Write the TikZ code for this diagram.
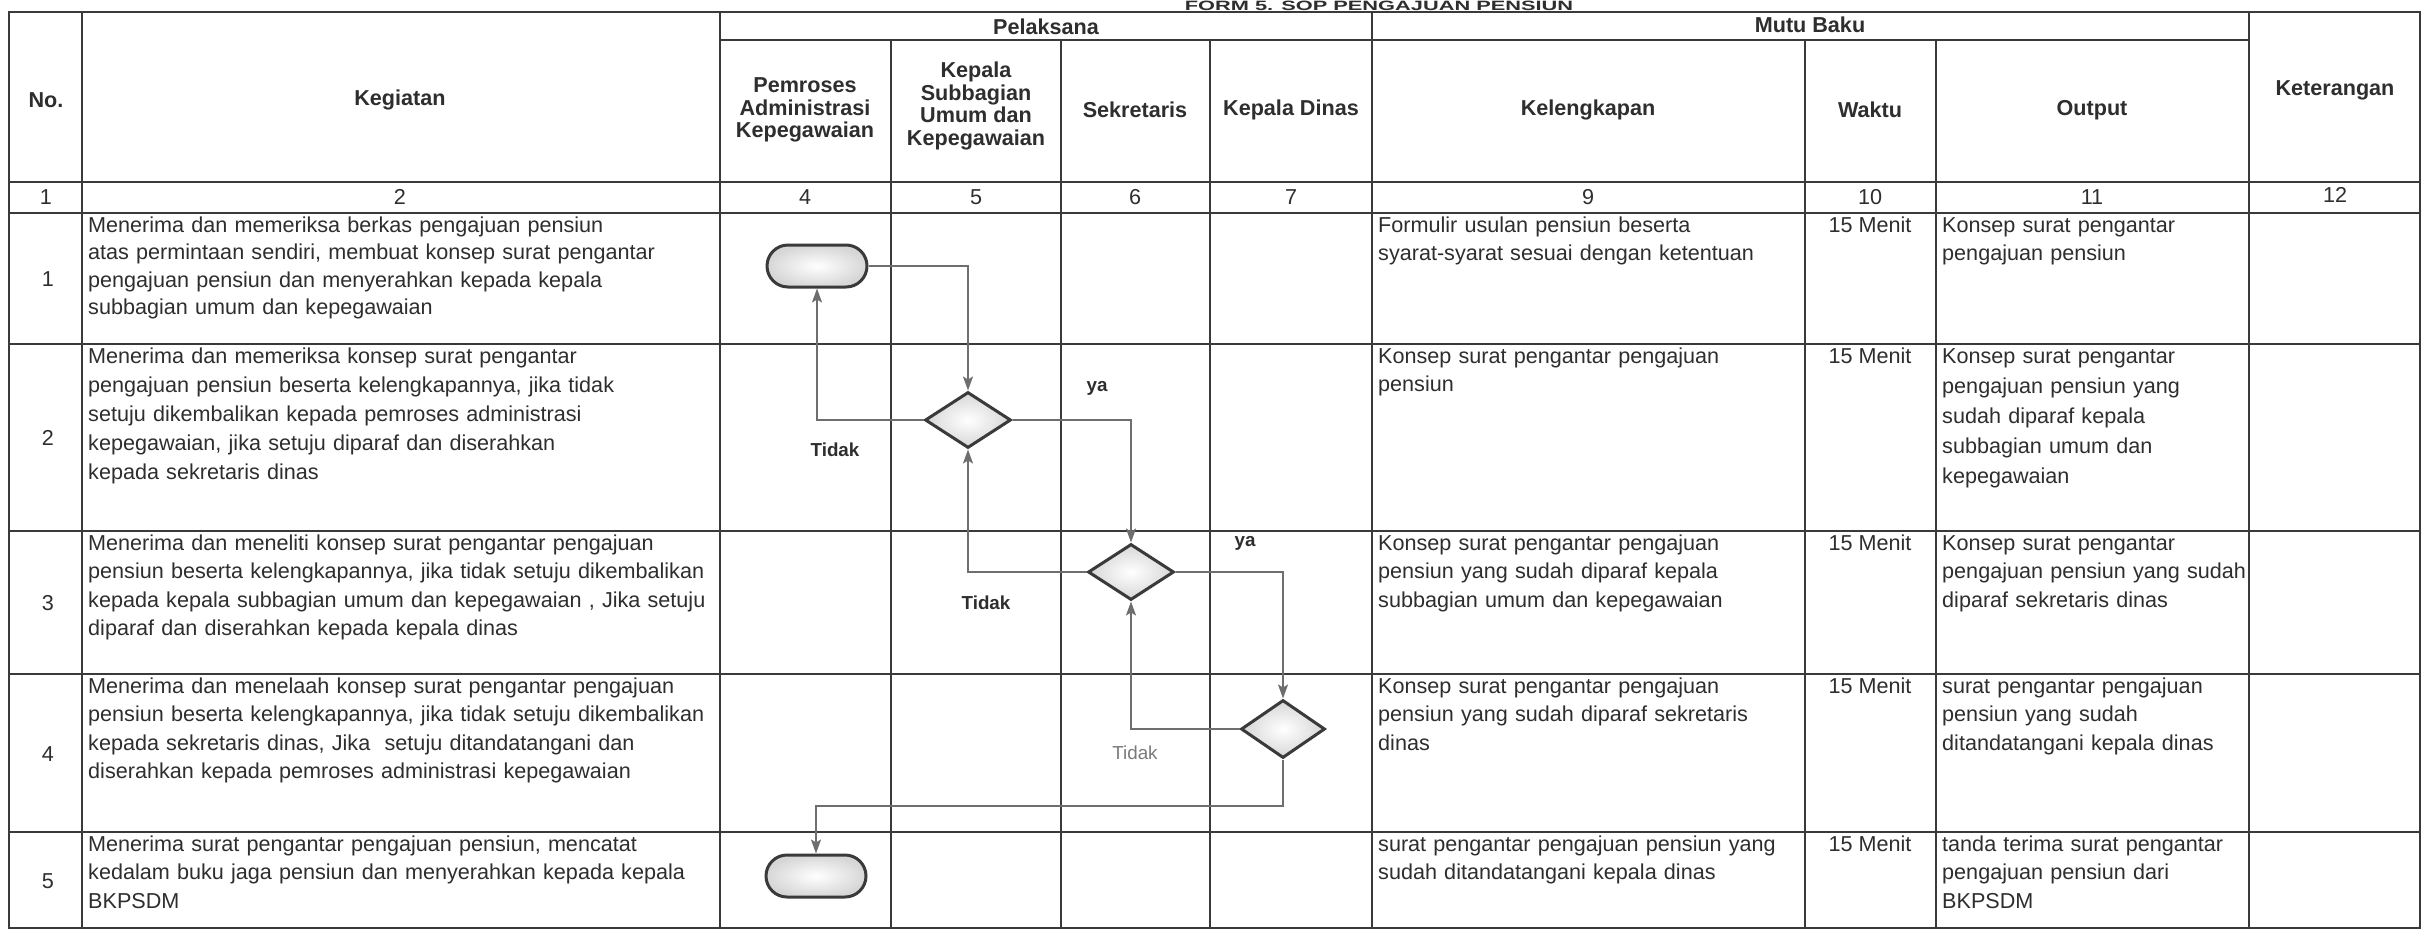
\documentclass[tikz,border=0pt]{standalone}
\usepackage{fontspec}
\setmainfont{Liberation Sans}
\usetikzlibrary{shapes.geometric,shapes.misc,arrows.meta}
\definecolor{ink}{HTML}{2E2E2E}
\definecolor{rule}{HTML}{3A3A3A}
\definecolor{conn}{HTML}{6E6E6E}
\definecolor{edge}{HTML}{3A3A3A}
\definecolor{soft}{HTML}{7A7A7A}
\begin{document}
\begin{tikzpicture}[x=1pt,y=-1pt,
  tbl/.style={draw=rule,line width=2.2pt},
  cell/.style={anchor=base west,inner sep=0pt,align=left,text=ink,font=\fontsize{21.6}{28.5}\selectfont},
  cellA/.style={cell,text width=630pt},
  cellK/.style={cell,text width=425pt},
  cellO/.style={cell,text width=305pt},
  num/.style={anchor=center,inner sep=0pt,text=ink,font=\fontsize{21.6}{26}\selectfont},
  waktu/.style={anchor=base,inner sep=0pt,text=ink,font=\fontsize{21.6}{26}\selectfont},
  head/.style={anchor=center,inner sep=0pt,align=center,text=ink,font=\fontsize{21.6}{22.5}\selectfont\bfseries},
  lbl/.style={anchor=center,inner sep=0pt,text=ink,font=\fontsize{18.8}{20}\selectfont\bfseries},
  term/.style={rounded rectangle,draw=edge,line width=3pt,minimum width=100pt,minimum height=42pt,inner sep=0pt,shading=radial,inner color=white,outer color=black!16},
  dec/.style={diamond,draw=edge,line width=3pt,minimum width=86pt,minimum height=56pt,inner sep=0pt,shading=radial,inner color=white,outer color=black!16},
  arr/.style={draw=conn,line width=1.8pt,-{Stealth[length=14pt,width=10pt,inset=3pt]}}
]
\useasboundingbox (0,0) rectangle (2423,935);
\clip (0,0) rectangle (2423,935);
\fill[white] (0,0) rectangle (2423,935);

% title (squeezed into the narrow strip above the table)
\node[anchor=base,inner sep=0pt,text=ink,font=\fontsize{21.8}{24}\selectfont\bfseries] (title) at (1379,10.5) {\scalebox{1}[0.62]{FORM 5. SOP PENGAJUAN PENSIUN}};

% table grid
\draw[tbl] (9,12) rectangle (2420,928);
\draw[tbl] (720,40) -- (2249,40);
\foreach \yy in {182,213,344,531,674,832} \draw[tbl] (9,\yy) -- (2420,\yy);
\foreach \xx in {82,720,1372,2249} \draw[tbl] (\xx,12) -- (\xx,928);
\foreach \xx in {891,1061,1210,1805,1936} \draw[tbl] (\xx,40) -- (\xx,928);

% headers
\node[head] (hNo) at (46,100) {No.};
\node[head] (hKeg) at (400,100) {Kegiatan};
\node[head] (hPel) at (1046,27) {Pelaksana};
\node[head] (hMutu) at (1810,25) {Mutu Baku};
\node[head] (hKet) at (2335,90) {Keterangan};
\node[head] (hPem) at (805,110) {Pemroses\\Administrasi\\Kepegawaian};
\node[head] (hKsub) at (976,106) {Kepala\\Subbagian\\Umum dan\\Kepegawaian};
\node[head] (hSek) at (1135,110) {Sekretaris};
\node[head] (hKdin) at (1291,110) {Kepala Dinas};
\node[head] (hKel) at (1588,110) {Kelengkapan};
\node[head] (hWak) at (1870,110) {Waktu};
\node[head] (hOut) at (2092,110) {Output};

% column numbers
\node[num] (n1) at (46,197) {1};
\node[num] (n2) at (400,197) {2};
\node[num] (n4) at (805,197) {4};
\node[num] (n5) at (976,197) {5};
\node[num] (n6) at (1135,197) {6};
\node[num] (n7) at (1291,197) {7};
\node[num] (n9) at (1588,197) {9};
\node[num] (n10) at (1870,197) {10};
\node[num] (n11) at (2092,197) {11};
\node[num] (n12) at (2335,195) {12};

% row numbers
\node[num] (r1) at (48,279) {1};
\node[num] (r2) at (48,438) {2};
\node[num] (r3) at (48,603) {3};
\node[num] (r4) at (48,754) {4};
\node[num] (r5) at (48,881) {5};

% Kegiatan
\node[cellA,font=\fontsize{21.6}{27.5}\selectfont] (k1) at (88,232) {Menerima dan memeriksa berkas pengajuan pensiun\\atas permintaan sendiri, membuat konsep surat pengantar\\pengajuan pensiun dan menyerahkan kepada kepala\\subbagian umum dan kepegawaian};
\node[cellA,font=\fontsize{21.6}{29}\selectfont] (k2) at (88,363) {Menerima dan memeriksa konsep surat pengantar\\pengajuan pensiun beserta kelengkapannya, jika tidak\\setuju dikembalikan kepada pemroses administrasi\\kepegawaian, jika setuju diparaf dan diserahkan\\kepada sekretaris dinas};
\node[cellA] (k3) at (88,550) {Menerima dan meneliti konsep surat pengantar pengajuan\\pensiun beserta kelengkapannya, jika tidak setuju dikembalikan\\kepada kepala subbagian umum dan kepegawaian , Jika setuju\\diparaf dan diserahkan kepada kepala dinas};
\node[cellA] (k4) at (88,693) {Menerima dan menelaah konsep surat pengantar pengajuan\\pensiun beserta kelengkapannya, jika tidak setuju dikembalikan\\kepada sekretaris dinas, Jika\ \ setuju ditandatangani dan\\diserahkan kepada pemroses administrasi kepegawaian};
\node[cellA] (k5) at (88,851) {Menerima surat pengantar pengajuan pensiun, mencatat\\kedalam buku jaga pensiun dan menyerahkan kepada kepala\\BKPSDM};

% Kelengkapan
\node[cellK] (c1) at (1378,232) {Formulir usulan pensiun beserta\\syarat-syarat sesuai dengan ketentuan};
\node[cellK] (c2) at (1378,363) {Konsep surat pengantar pengajuan\\pensiun};
\node[cellK] (c3) at (1378,550) {Konsep surat pengantar pengajuan\\pensiun yang sudah diparaf kepala\\subbagian umum dan kepegawaian};
\node[cellK] (c4) at (1378,693) {Konsep surat pengantar pengajuan\\pensiun yang sudah diparaf sekretaris\\dinas};
\node[cellK] (c5) at (1378,851) {surat pengantar pengajuan pensiun yang\\sudah ditandatangani kepala dinas};

% Waktu
\node[waktu] (w1) at (1870,232) {15 Menit};
\node[waktu] (w2) at (1870,363) {15 Menit};
\node[waktu] (w3) at (1870,550) {15 Menit};
\node[waktu] (w4) at (1870,693) {15 Menit};
\node[waktu] (w5) at (1870,851) {15 Menit};

% Output
\node[cellO] (o1) at (1942,232) {Konsep surat pengantar\\pengajuan pensiun};
\node[cellO,font=\fontsize{21.6}{30}\selectfont] (o2) at (1942,363) {Konsep surat pengantar\\pengajuan pensiun yang\\sudah diparaf kepala\\subbagian umum dan\\kepegawaian};
\node[cellO] (o3) at (1942,550) {Konsep surat pengantar\\pengajuan pensiun yang sudah\\diparaf sekretaris dinas};
\node[cellO] (o4) at (1942,693) {surat pengantar pengajuan\\pensiun yang sudah\\ditandatangani kepala dinas};
\node[cellO] (o5) at (1942,851) {tanda terima surat pengantar\\pengajuan pensiun dari\\BKPSDM};

% flowchart shapes
\node[term] (t1) at (817,266) {};
\node[dec] (d1) at (968,420) {};
\node[dec] (d2) at (1131,572) {};
\node[dec,minimum width=84pt,minimum height=58pt] (d3) at (1283,729) {};
\node[term] (t2) at (816,876) {};
\coordinate (bend) at (1283,806);

% connectors
\draw[arr] (t1.east) -| (d1.north);
\draw[arr] (d1.west) -| (t1.south);
\draw[arr] (d1.east) -| (d2.north);
\draw[arr] (d2.west) -| (d1.south);
\draw[arr] (d2.east) -| (d3.north);
\draw[arr] (d3.west) -| (d2.south);
\draw[arr] (d3.south) -- (bend) -| (t2.north);

% labels
\node[lbl] (lt1) at (835,450) {Tidak};
\node[lbl] (ly1) at (1097,388) {ya};
\node[lbl] (lt2) at (986,603) {Tidak};
\node[lbl] (ly2) at (1245,543) {ya};
\node[lbl,text=soft,font=\fontsize{18.8}{20}\selectfont] (lt3) at (1135,753) {Tidak};
\end{tikzpicture}
\end{document}
